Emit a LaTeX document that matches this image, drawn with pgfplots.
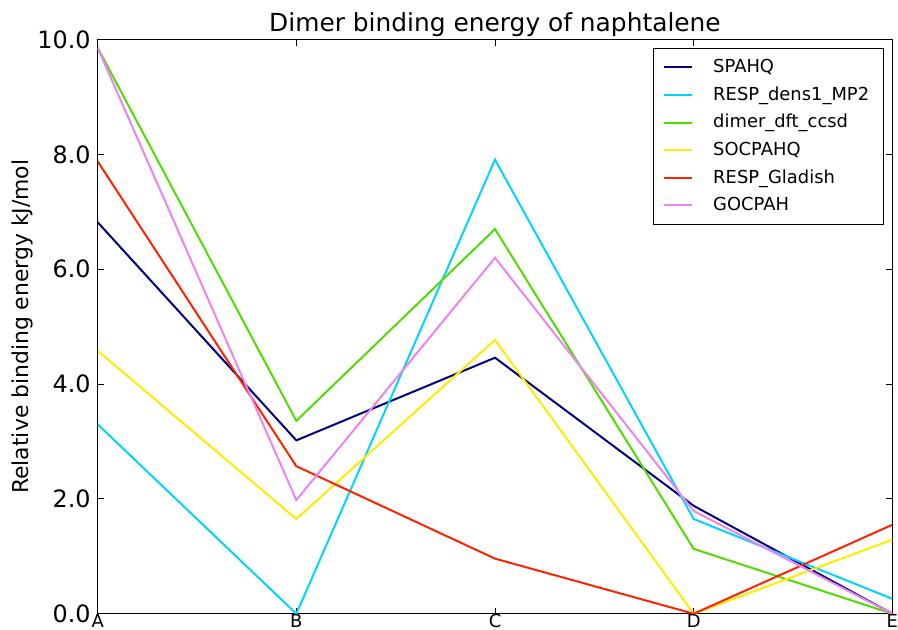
\documentclass[border=0pt]{standalone}
\usepackage{pgfplots}
\pgfplotsset{compat=1.18}
\usepackage{fontspec}
\setmainfont{DejaVu Sans}
\definecolor{serA}{RGB}{0,0,128}
\definecolor{serB}{RGB}{0,212,255}
\definecolor{serC}{RGB}{80,220,0}
\definecolor{serD}{RGB}{255,235,0}
\definecolor{serE}{RGB}{255,34,0}
\definecolor{serF}{RGB}{238,130,238}
\begin{document}
\begin{tikzpicture}
\begin{axis}[
  scale only axis,
  width=398bp, height=287.5bp,
  xmin=0, xmax=4, ymin=0, ymax=10,
  xtick={0,1,2,3,4},
  xticklabels={A,B,C,D,E},
  ytick={0,2,4,6,8,10},
  yticklabel style={/pgf/number format/.cd,fixed,fixed zerofill,precision=1},
  /pgf/number format/assume math mode=true,
  tick align=inside,
  major tick length=3bp,
  tick style={black, line width=0.5pt},
  axis line style={black, line width=0.5pt},
  every tick label/.append style={font=\fontsize{12}{14}\selectfont},
  xticklabel style={font=\fontsize{9}{10}\selectfont, inner xsep=0pt, inner ysep=1bp, yshift=1bp},
  title={Dimer binding energy of naphtalene},
  title style={font=\fontsize{12.5}{14}\selectfont, yshift=-8bp},
  ylabel={Relative binding energy kJ/mol},
  ylabel style={font=\fontsize{11}{13}\selectfont, yshift=-4.5bp},
  legend style={at={(0.989,0.986)}, anchor=north east, draw=black, line width=0.5pt,
    font=\fontsize{9}{11}\selectfont, row sep=1.6bp, inner xsep=5bp, inner ysep=3.5bp,
    nodes={inner xsep=2bp}},
  legend cell align=left,
  legend image code/.code={\draw[#1, line width=1pt] (0bp,0bp) -- (14bp,0bp); \path (22bp,0bp);},
  every axis plot/.append style={line width=1pt},
]
\addplot[serA] coordinates {(0,6.82) (1,3.02) (2,4.46) (3,1.88) (4,0.0)};
\addlegendentry{SPAHQ}
\addplot[serB] coordinates {(0,3.30) (1,0.0) (2,7.91) (3,1.65) (4,0.26)};
\addlegendentry{RESP\_dens1\_MP2}
\addplot[serC] coordinates {(0,9.86) (1,3.36) (2,6.70) (3,1.13) (4,0.0)};
\addlegendentry{dimer\_dft\_ccsd}
\addplot[serD] coordinates {(0,4.58) (1,1.65) (2,4.77) (3,0.0) (4,1.29)};
\addlegendentry{SOCPAHQ}
\addplot[serE] coordinates {(0,7.88) (1,2.57) (2,0.96) (3,0.0) (4,1.55)};
\addlegendentry{RESP\_Gladish}
\addplot[serF] coordinates {(0,9.86) (1,1.98) (2,6.20) (3,1.79) (4,0.0)};
\addlegendentry{GOCPAH}
\end{axis}
\path (current bounding box.south west) ++(-2.5bp,0bp) coordinate (bbsw);
\path (current bounding box.north east) ++(0bp,3bp) coordinate (bbne);
\path (bbsw) (bbne);
\end{tikzpicture}
\end{document}
